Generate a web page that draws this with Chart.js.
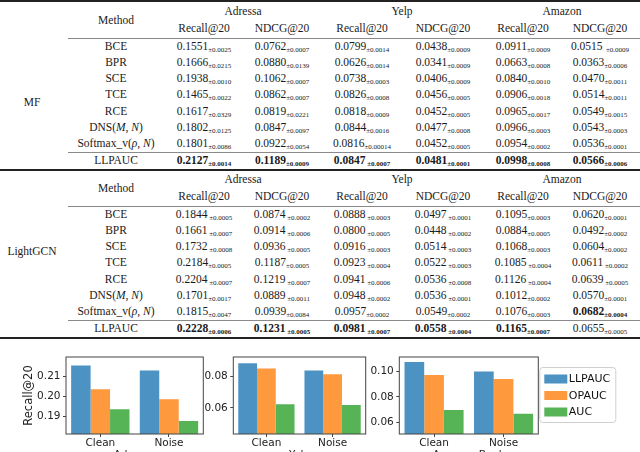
<!DOCTYPE html>
<html>
<head>
<meta charset="utf-8">
<script src="https://cdn.jsdelivr.net/npm/chart.js@4.4.1/dist/chart.umd.min.js"></script>
<style>
html, body { margin: 0; padding: 0; width: 640px; height: 452px; overflow: hidden; background: #fff; }
#tbl { position: absolute; left: 0; top: 0; width: 640px; height: 342px; font-family: "Liberation Serif", serif; font-size: 11.5px; color: #1a1a1a; }
.t { position: absolute; white-space: pre; transform: translate(-50%, -50%); line-height: 1; }
.sd { font-size: 7px; position: relative; top: 2px; }
.b { font-weight: bold; }
.rule { position: absolute; left: 0; width: 640px; height: 2px; background: #222; }
.thin { position: absolute; left: 68px; width: 572px; height: 1.3px; background: #8a8a8a; }
canvas { position: absolute; }
</style>
</head>
<body>
<div id="tbl"></div>
<canvas id="c1" width="215" height="130" style="left:0px;top:345px"></canvas>
<canvas id="c2" width="185" height="130" style="left:195px;top:345px"></canvas>
<canvas id="c3" width="275" height="130" style="left:365px;top:345px"></canvas>
<script>
// ---- table data ----
const methods = ['BCE', 'BPR', 'SCE', 'TCE', 'RCE', 'DNS(<i>M</i>, <i>N</i>)', 'Softmax_v(<i>ρ</i>, <i>N</i>)', 'LLPAUC'];
const dataNames = ['Adressa', 'Yelp', 'Amazon'];
const metrics = ['Recall@20', 'NDCG@20'];

const mfMean = [
    ['0.1551', '0.0762', '0.0799', '0.0438', '0.0911', '0.0515'],
    ['0.1666', '0.0880', '0.0626', '0.0341', '0.0663', '0.0363'],
    ['0.1938', '0.1062', '0.0738', '0.0406', '0.0840', '0.0470'],
    ['0.1465', '0.0862', '0.0826', '0.0456', '0.0906', '0.0514'],
    ['0.1617', '0.0819', '0.0818', '0.0452', '0.0965', '0.0549'],
    ['0.1802', '0.0847', '0.0844', '0.0477', '0.0966', '0.0543'],
    ['0.1801', '0.0922', '0.0816', '0.0452', '0.0954', '0.0536'],
    ['0.2127', '0.1189', '0.0847', '0.0481', '0.0998', '0.0566']
];
const mfStd = [
    ['±0.0025', '±0.0007', '±0.0014', '±0.0009', '±0.0009', '  ±0.0009'],
    ['±0.0215', '±0.0139', '±0.0014', '±0.0009', '±0.0008', '±0.0006'],
    ['±0.0010', '±0.0007', '±0.0003', '±0.0009', '±0.0010', '±0.0011'],
    ['±0.0022', '±0.0007', '±0.0008', '±0.0005', '±0.0018', '±0.0011'],
    ['±0.0329', '±0.0221', '±0.0009', '±0.0005', '±0.0017', '±0.0015'],
    ['±0.0125', '±0.0097', '±0.0016', '±0.0008', '±0.0003', '±0.0003'],
    ['±0.0086', '±0.0054', '±0.00014', '±0.0005', '±0.0002', '±0.0001'],
    ['±0.0014', '±0.0009', ' ±0.0007', '±0.0001', '±0.0008', '±0.0006']
];
const mfBold = [[7, 0], [7, 1], [7, 2], [7, 3], [7, 4], [7, 5]];

const lgMean = [
    ['0.1844', '0.0874', '0.0888', '0.0497', '0.1095', '0.0620'],
    ['0.1661', '0.0914', '0.0800', '0.0448', '0.0884', '0.0492'],
    ['0.1732', '0.0936', '0.0916', '0.0514', '0.1068', '0.0604'],
    ['0.2184', '0.1187', '0.0923', '0.0522', '0.1085', '0.0611'],
    ['0.2204', '0.1219', '0.0941', '0.0536', '0.1126', '0.0639'],
    ['0.1701', '0.0889', '0.0948', '0.0536', '0.1012', '0.0570'],
    ['0.1815', '0.0939', '0.0957', '0.0549', '0.1076', '0.0682'],
    ['0.2228', '0.1231', '0.0981', '0.0558', '0.1165', '0.0655']
];
const lgStd = [
    [' ±0.0005', ' ±0.0002', ' ±0.0003', ' ±0.0001', '±0.0003', '±0.0001'],
    [' ±0.0007', ' ±0.0006', ' ±0.0005', ' ±0.0002', '±0.0005', '±0.0002'],
    [' ±0.0008', ' ±0.0005', ' ±0.0003', ' ±0.0003', '±0.0003', '±0.0002'],
    ['±0.0005', '±0.0005', ' ±0.0004', ' ±0.0003', ' ±0.0004', ' ±0.0002'],
    [' ±0.0007', ' ±0.0007', ' ±0.0006', ' ±0.0008', ' ±0.0004', ' ±0.0005'],
    ['±0.0017', ' ±0.0011', ' ±0.0002', ' ±0.0001', '±0.0002', '±0.0001'],
    ['±0.0047', '±0.0084', '±0.0002', '±0.0002', '±0.0003', '±0.0004'],
    ['±0.0006', ' ±0.0005', ' ±0.0007', ' ±0.0004', '±0.0007', '±0.0005']
];
const lgBold = [[7, 0], [7, 1], [7, 2], [7, 3], [7, 4], [6, 5]];

// ---- bar chart data ----
const groups = ['Clean', 'Noise'];
const series = ['LLPAUC', 'OPAUC', 'AUC'];
const adressaRecall = [[0.2155, 0.2130], [0.2037, 0.1987], [0.1937, 0.1878]];
const yelpRecall = [[0.0881, 0.0836], [0.0849, 0.0813], [0.0623, 0.0619]];
const amazonRecall = [[0.1077, 0.1000], [0.0974, 0.0942], [0.0695, 0.0666]];
const adressaTicks = [0.19, 0.20, 0.21];
const yelpTicks = [0.06, 0.08];
const amazonTicks = [0.06, 0.08, 0.10];
const colors = ['#4c92c3', '#ff993e', '#56b356'];

// ---- table ----
const tbl = document.getElementById('tbl');
const colX = [204, 282, 362, 443, 523, 600];
const dsX = [243, 402, 562];
const methodX = 116;

function put(html, x, y, cls) {
    const d = document.createElement('div');
    d.className = 't' + (cls ? ' ' + cls : '');
    d.style.left = x + 'px';
    d.style.top = y + 'px';
    d.innerHTML = html;
    tbl.appendChild(d);
}
function line(cls, y) {
    const d = document.createElement('div');
    d.className = cls;
    d.style.top = y + 'px';
    tbl.appendChild(d);
}

const blocks = [
    { name: 'MF', top: 0, mean: mfMean, std: mfStd, bold: mfBold, nameY: 103 },
    { name: 'LightGCN', top: 168, mean: lgMean, std: lgStd, bold: lgBold, nameY: 252 }
];

blocks.forEach(b => {
    put(b.name, 32, b.nameY);
    put('Method', methodX, b.top + 20.5);
    dataNames.forEach((n, i) => put(n, dsX[i], b.top + 12));
    colX.forEach((x, i) => put(metrics[i % 2], x, b.top + 29));
    line('thin', b.top + 37.5);
    line('thin', b.top + 152);
    methods.forEach((m, r) => {
        const y = r < 7 ? b.top + 46.5 + r * 16.3 : b.top + 160.8;
        put(m, methodX, y);
        colX.forEach((x, c) => {
            const isBold = b.bold.some(p => p[0] === r && p[1] === c);
            put(b.mean[r][c] + '<span class="sd">' + b.std[r][c] + '</span>', x, y, isBold ? 'b' : '');
        });
    });
});
line('rule', 0);
line('rule', 169);
line('rule', 337);

// ---- bar charts ----
const tickFont = { family: 'DejaVu Sans', size: 10.5 };

const framePlugin = {
    id: 'frame',
    afterDatasetsDraw(chart) {
        const a = chart.chartArea, ctx = chart.ctx;
        ctx.save();
        ctx.strokeStyle = '#444';
        ctx.lineWidth = 1;
        ctx.strokeRect(a.left, a.top, a.right - a.left, a.bottom - a.top);
        ctx.restore();
    }
};

const legendPlugin = {
    id: 'boxLegend',
    afterDraw(chart) {
        const ctx = chart.ctx;
        const x0 = chart.chartArea.right + 1;
        const y0 = 22;
        ctx.save();
        ctx.fillStyle = '#fff';
        ctx.strokeStyle = '#d0d0d0';
        ctx.lineWidth = 1;
        ctx.beginPath();
        ctx.roundRect(x0 + 0.5, y0 + 0.5, 76, 55, 3);
        ctx.fill();
        ctx.stroke();
        ctx.font = '11px "DejaVu Sans"';
        ctx.textBaseline = 'middle';
        chart.data.datasets.forEach((ds, i) => {
            const cy = y0 + 12 + i * 16.5;
            ctx.fillStyle = ds.backgroundColor;
            ctx.fillRect(x0 + 5, cy - 4.5, 23, 9);
            ctx.fillStyle = '#111';
            ctx.fillText(ds.label, x0 + 29.5, cy + 0.5);
        });
        ctx.restore();
    }
};

function barChart(id, values, yMin, yMax, yTicks, o) {
    const plugins = [framePlugin];
    if (o.legend) plugins.push(legendPlugin);
    return new Chart(document.getElementById(id), {
        type: 'bar',
        data: {
            labels: groups,
            datasets: series.map((s, i) => ({
                label: s,
                data: values[i],
                backgroundColor: colors[i],
                borderWidth: 0,
                barPercentage: 1,
                categoryPercentage: 0.85
            }))
        },
        options: {
            responsive: false,
            animation: false,
            layout: { padding: { left: 0, top: 12, right: o.right, bottom: 0 } },
            plugins: { legend: { display: false }, tooltip: { enabled: false } },
            scales: {
                x: {
                    grid: { offset: false, drawOnChartArea: false, tickLength: 3, color: '#444' },
                    border: { display: false },
                    ticks: { font: tickFont, color: '#222', padding: 0 },
                    title: { display: true, text: o.xTitle, font: { family: 'DejaVu Sans', size: 10.5 }, color: '#222', padding: { top: 0, bottom: 13 } },
                    afterFit: s => { s.height = 41; }
                },
                y: {
                    min: yMin,
                    max: yMax,
                    afterBuildTicks: s => { s.ticks = yTicks.map(v => ({ value: v })); },
                    grid: { drawOnChartArea: false, tickLength: 3, color: '#444' },
                    border: { display: false },
                    ticks: { font: tickFont, color: '#222', padding: 2.5, callback: v => v.toFixed(2) },
                    title: o.yTitle
                        ? { display: true, text: o.yTitle, font: { family: 'DejaVu Sans', size: 11.5 }, color: '#222', padding: { top: 22, bottom: 0 } }
                        : { display: false },
                    afterFit: s => { s.width = o.yw; }
                }
            }
        },
        plugins: plugins
    });
}

barChart('c1', adressaRecall, 0.1813, 0.2198, adressaTicks, { yw: 66, right: 11.7, xTitle: 'Adressa', yTitle: 'Recall@20' });
barChart('c2', yelpRecall, 0.0436, 0.0921, yelpTicks, { yw: 38.3, right: 14.3, xTitle: 'Yelp' });
barChart('c3', amazonRecall, 0.0505, 0.1116, amazonTicks, { yw: 34.3, right: 101.7, xTitle: 'Amazon-Book', legend: true });
</script>
</body>
</html>
